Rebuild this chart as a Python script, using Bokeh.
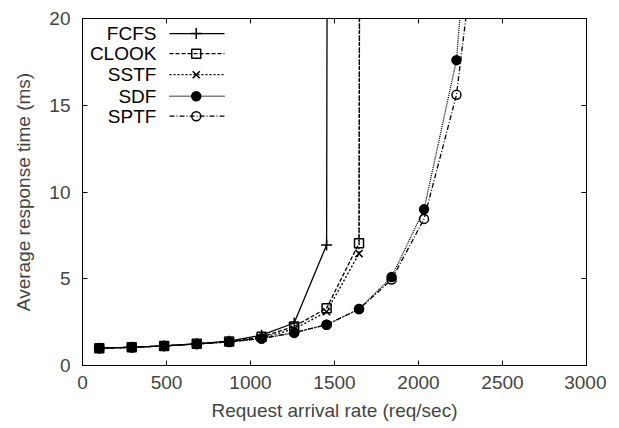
from bokeh.plotting import figure
from bokeh.models import LinearAxis, FixedTicker, Range1d
from bokeh.embed import file_html
from bokeh.resources import INLINE
from bokeh.core.properties import value

# ---- data ----
rate = [100, 293, 486, 680, 873, 1066, 1260, 1453, 1646, 1840, 2033, 2226, 2420]
fcfs = [1.0, 1.05, 1.13, 1.25, 1.40, 1.75, 2.45, 6.95, 1000]
clook = [1.0, 1.05, 1.13, 1.25, 1.38, 1.65, 2.25, 3.30, 7.05, 1000]
sstf = [1.0, 1.05, 1.13, 1.25, 1.37, 1.60, 2.10, 3.10, 6.45, 1000]
sdf = [1.0, 1.05, 1.13, 1.24, 1.36, 1.55, 1.88, 2.35, 3.25, 5.10, 9.00, 17.6, 41.0]
sptf = [1.0, 1.05, 1.13, 1.24, 1.36, 1.55, 1.90, 2.35, 3.25, 4.95, 8.45, 15.6, 31.0]
series_names = ["FCFS", "CLOOK", "SSTF", "SDF", "SPTF"]
x_ticks = [0, 500, 1000, 1500, 2000, 2500, 3000]
y_ticks = [0, 5, 10, 15, 20]

FONT = "Liberation Sans"
FS = "19px"

p = figure(frame_width=504, frame_height=347,
           min_border_left=82, min_border_top=18, min_border_right=20, min_border_bottom=50,
           x_range=Range1d(0, 3000), y_range=Range1d(0, 20),
           output_backend="svg", toolbar_location=None,
           x_axis_label="Request arrival rate (req/sec)",
           y_axis_label="Average response time (ms)")
p.grid.visible = False
p.outline_line_color = "black"
p.outline_line_width = 1
p.background_fill_color = "white"
p.border_fill_color = "white"

for ax in (p.xaxis[0], p.yaxis[0]):
    ax.major_label_text_font = FONT
    ax.major_label_text_font_size = FS
    ax.axis_label_text_font = FONT
    ax.axis_label_text_font_size = FS
    ax.axis_label_text_font_style = "normal"
    ax.major_tick_in = 5
    ax.major_tick_out = 0
    ax.minor_tick_line_color = None
    ax.axis_line_color = "black"
    ax.major_tick_line_color = "black"
p.xaxis[0].ticker = FixedTicker(ticks=x_ticks)
p.yaxis[0].ticker = FixedTicker(ticks=y_ticks)
p.xaxis[0].major_label_standoff = 10
p.xaxis[0].axis_label_standoff = 8
p.yaxis[0].major_label_standoff = 12
p.yaxis[0].axis_label_standoff = 12

# mirrored inward ticks on the top and right (no labels)
for loc, tk in (("right", y_ticks), ("above", x_ticks)):
    a = LinearAxis(ticker=FixedTicker(ticks=tk))
    a.major_label_text_color = None
    a.major_label_standoff = 0
    a.major_tick_in = 5
    a.major_tick_out = 0
    a.minor_tick_line_color = None
    a.axis_line_color = "black"
    p.add_layout(a, loc)

styles = [
    dict(dash="solid", marker="cross", size=11, fill=1),
    dict(dash="4 2", marker="square", size=9, fill=0),
    dict(dash="2 2", marker="x", size=10, fill=0),
    dict(dash="1 1", marker="circle", size=9, fill=1),
    dict(dash="5 2 1 2", marker="circle", size=9, fill=0),
]
all_y = [fcfs, clook, sstf, sdf, sptf]

for ys, st in zip(all_y, styles):
    xs = rate[:len(ys)]
    p.line(xs, ys, line_color="black", line_width=1.3, line_dash=st["dash"])
    p.scatter(xs, ys, marker=st["marker"], size=st["size"], line_color="black",
              line_width=1.5, fill_color="black", fill_alpha=st["fill"])

# ---- gnuplot-style legend (label right-aligned, sample on its right) ----
leg_text_x = 440
leg_x0, leg_x1, leg_xm = 518, 845, 677
leg_y = [19.13, 17.97, 16.76, 15.52, 14.37]
for name, st, yy in zip(series_names, styles, leg_y):
    p.text(x=[leg_text_x], y=[yy], text=[name], text_align="right", text_baseline="middle",
           text_font=value(FONT), text_font_size=FS, text_color="black")
    p.line([leg_x0, leg_x1], [yy, yy], line_color="black", line_width=1.3, line_dash=st["dash"])
    p.scatter([leg_xm], [yy], marker=st["marker"], size=st["size"], line_color="black",
              line_width=1.5, fill_color="black", fill_alpha=st["fill"])

open("out.html", "w").write(file_html(p, INLINE))
